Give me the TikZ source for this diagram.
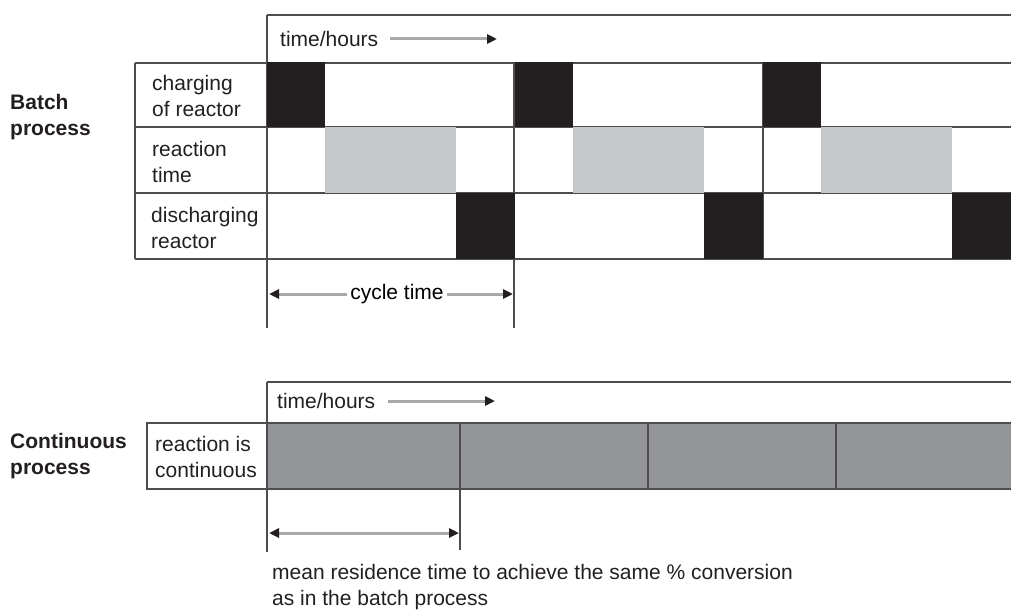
\documentclass[tikz,border=0pt]{standalone}
\usepackage{fontspec}
\setmainfont{Liberation Sans}
\usetikzlibrary{arrows.meta}
\definecolor{ink}{HTML}{231F20}
\definecolor{rulegray}{HTML}{4D4D4D}
\definecolor{reactgray}{HTML}{C6C7C9}
\definecolor{contgray}{HTML}{939598}
\definecolor{shaft}{HTML}{A7A9AC}

\begin{document}
\begin{tikzpicture}[
  x=1pt, y=-1pt, font=\fontsize{21}{26}\selectfont,
  gridline/.style={draw=rulegray, line width=1.2pt},
  blk/.style={fill=ink},
  rxn/.style={fill=reactgray},
  cont/.style={fill=contgray},
  rowlabel/.style={anchor=west, align=left, inner sep=0pt, text=ink},
  proclabel/.style={rowlabel, font=\fontsize{21}{26}\selectfont\bfseries},
  timearrow/.style={draw=shaft, line width=3pt, -{Triangle[length=10pt, width=9pt, color=ink]}},
  dimarrow/.style={draw=shaft, line width=3pt, {Triangle[length=10pt, width=9pt, color=ink]}-{Triangle[length=10pt, width=9pt, color=ink]}}
]
\useasboundingbox (0,0) rectangle (1011,610);

% batch process
\draw[gridline] (267,15) -- (1011,15);
\foreach \y in {63,127,193,259} {\draw[gridline] (135,\y) -- (1011,\y);}
\draw[gridline] (135,63) -- (135,259);
\draw[gridline] (267,15) -- (267,328);
\draw[gridline] (514,63) -- (514,328);
\draw[gridline] (763,63) -- (763,259);
\foreach \c in {0,1,2} {
  \pgfmathsetmacro\xo{267+248*\c}
  \fill[blk] (\xo,62) rectangle (\xo+58,127);
  \fill[rxn] (\xo+58,127) rectangle (\xo+189,193);
  \fill[blk] ({min(\xo+189,1011)},193) rectangle ({min(\xo+248,1011)},259);
}

\node[proclabel] (batch) at (10,117) {Batch\\process};
\node[rowlabel] (charge) at (152,96) {charging\\of reactor};
\node[rowlabel] (react) at (152,162) {reaction\\time};
\node[rowlabel] (dischg) at (151,228) {discharging\\reactor};

\node[rowlabel] (hoursA) at (280,39) {time/hours};
\coordinate (hoursAs) at (390,39);
\coordinate (hoursAe) at (497,39);
\draw[timearrow] (hoursAs) -- (hoursAe);

\node[fill=white, inner sep=3pt] (cycle) at (397,294) {cycle time};
\coordinate (cycleL) at (269,294);
\coordinate (cycleR) at (513,294);
\draw[timearrow] (cycle.west) -- (cycleL);
\draw[timearrow] (cycle.east) -- (cycleR);

% continuous process
\fill[cont] (267,423) rectangle (1011,489);
\draw[gridline] (267,382) -- (1011,382);
\draw[gridline] (267,423) -- (1011,423);
\draw[gridline] (267,489) -- (1011,489);
\draw[gridline] (147,423) rectangle (267,489);
\draw[gridline] (267,382) -- (267,552);
\draw[gridline] (460,423) -- (460,550);
\foreach \x in {648,836} {\draw[gridline] (\x,423) -- (\x,489);}

\node[proclabel] (contproc) at (10,456) {Continuous\\process};
\node[rowlabel] (contrxn) at (155,457) {reaction is\\continuous};

\node[rowlabel] (hoursB) at (277,401) {time/hours};
\coordinate (hoursBs) at (388,401);
\coordinate (hoursBe) at (495,401);
\draw[timearrow] (hoursBs) -- (hoursBe);

\coordinate (resL) at (269,533);
\coordinate (resR) at (459,533);
\draw[dimarrow] (resL) -- (resR);
\node[rowlabel] (resnote) at (272,587) {mean residence time to achieve the same \% conversion\\as in the batch process};
\end{tikzpicture}
\end{document}
